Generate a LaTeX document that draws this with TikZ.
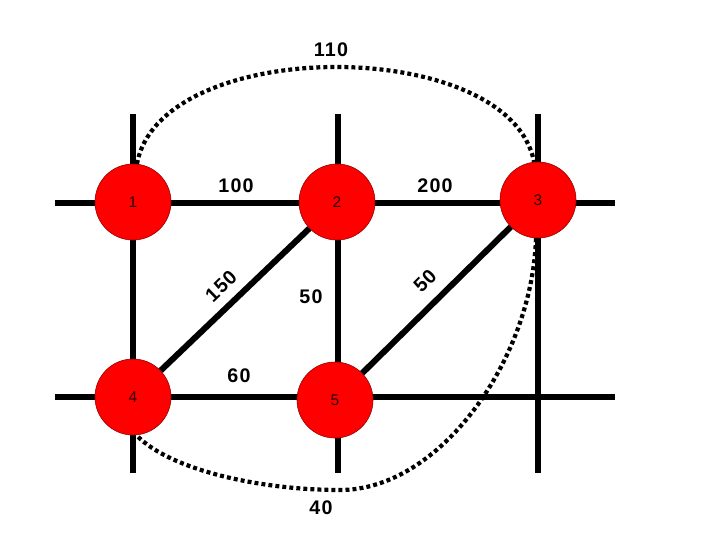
\documentclass[tikz,border=0pt]{standalone}
\usepackage{fontspec}
\setmainfont{Liberation Sans}
\begin{document}
\begin{tikzpicture}[x=0.025cm,y=-0.025cm,
  vertex/.style={circle,fill=red,draw=red!55!black,thin,minimum size=1.9cm,inner sep=0pt,
    text=black!85!red,font=\fontsize{11}{13}\selectfont},
  weight/.style={inner sep=0pt,font=\fontsize{14}{16}\selectfont\bfseries\addfontfeature{LetterSpace=6}},
  street/.style={line width=4.3pt},
  route/.style={line width=3pt,dash pattern=on 2.8pt off 2.2pt}]
  \useasboundingbox (0,0) rectangle (720,540);

  % Calles de la cuadricula
  \foreach \y in {203,397}
    \draw[street] (55,\y) -- (615,\y);
  \foreach \x in {133,338,538}
    \draw[street] (\x,114) -- (\x,473);

  % Vertices
  \node[vertex] (n1) at (133,202) {1};
  \node[vertex] (n2) at (337,202) {2};
  \node[vertex] (n3) at (538,200) {3};
  \node[vertex] (n4) at (133,397) {4};
  \node[vertex] (n5) at (335,400) {5};

  % Diagonales
  \foreach \from/\to in {n4/n2, n5/n3}
    \draw[street] (\from) -- (\to);

  % Rutas punteadas
  \draw[route] (n1.84) .. controls (160,35) and (510,35) .. (n3.96);
  \draw[route] (n3.-93) .. controls (532,360) and (440,490) .. (340,490)
    .. controls (260,490) and (170,470) .. (n4.-85);

  % Pesos
  \node[weight] (w13) at (331,50) {110};
  \node[weight] (w12) at (236,186) {100};
  \node[weight] (w23) at (435,186) {200};
  \node[weight,rotate=44] (w42) at (221,286) {150};
  \node[weight] (w25) at (311,297) {50};
  \node[weight,rotate=45] (w53) at (425,281) {50};
  \node[weight] (w45) at (239,376) {60};
  \node[weight] (w43) at (321,508) {40};
\end{tikzpicture}
\end{document}
